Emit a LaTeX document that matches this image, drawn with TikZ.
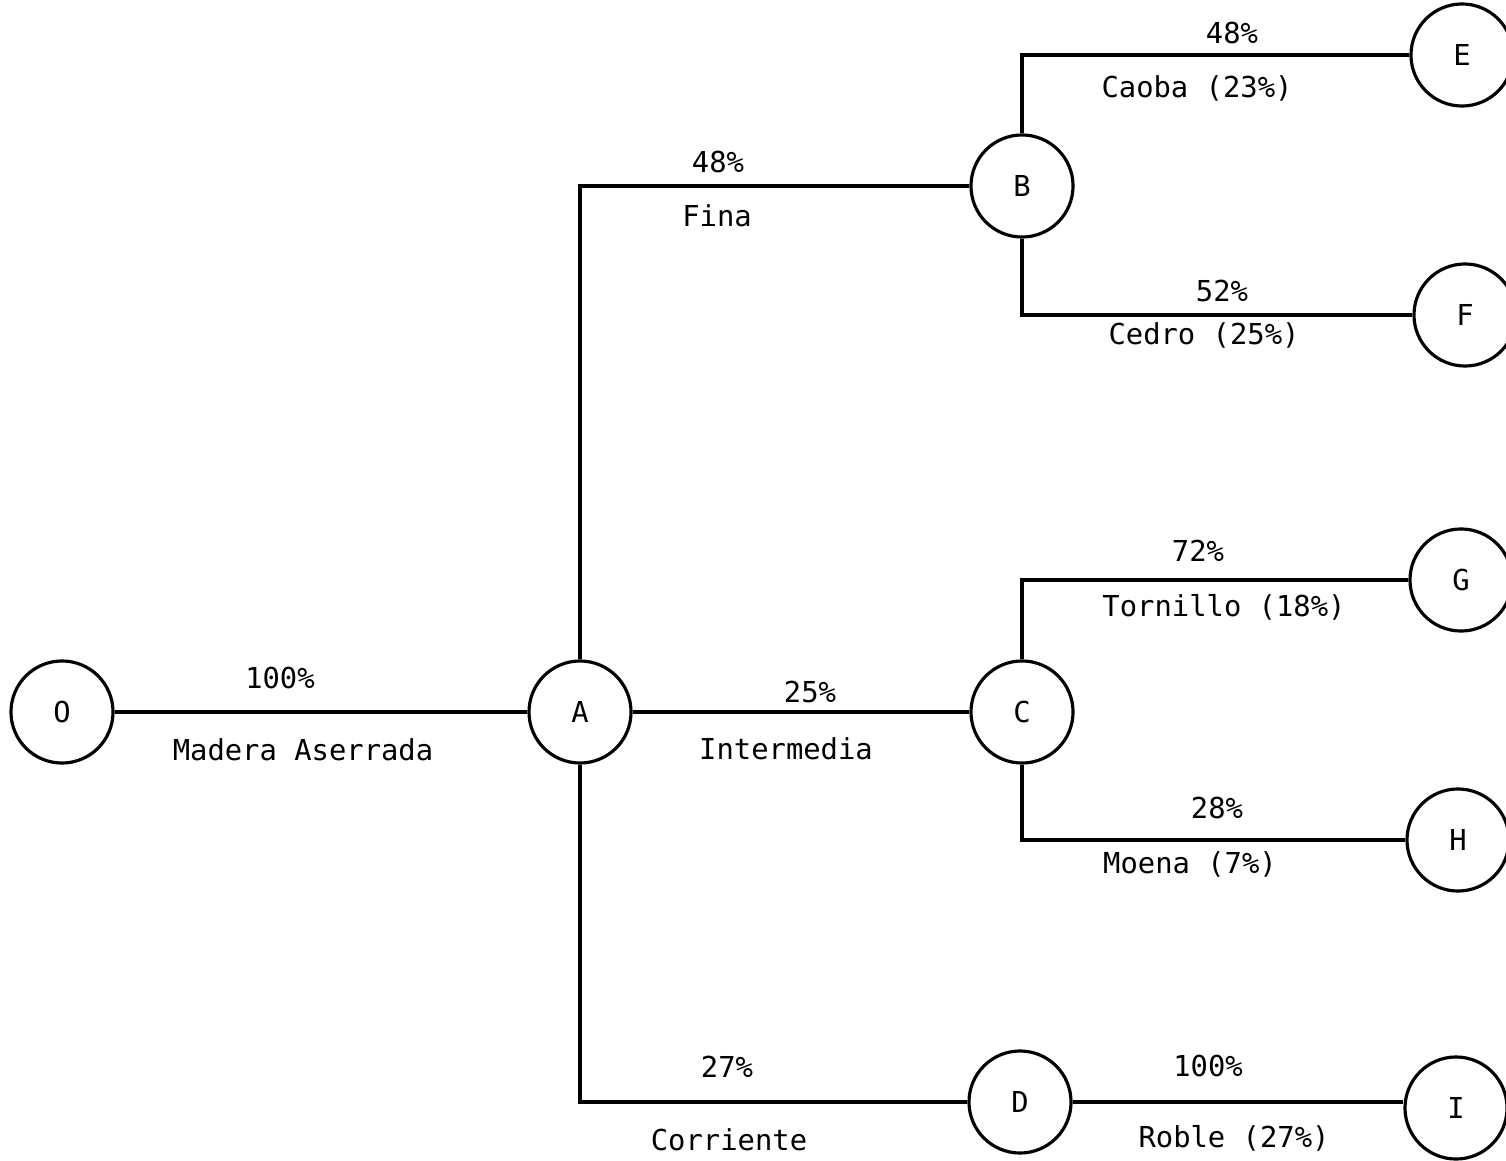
\documentclass[tikz,border=0pt]{standalone}
\usepackage{fontspec}
\newfontfamily\plotter{DejaVu Sans Mono}
\usetikzlibrary{positioning}

\tikzset{
  nodo/.style={draw, circle, line width=0.9pt, minimum size=1.02cm, inner sep=0pt,
               font=\plotter\fontsize{8.2pt}{10pt}\selectfont},
  rama/.style={line width=0.9pt},
  etiq/.style={font=\plotter\fontsize{8.2pt}{10pt}\selectfont, inner sep=0pt}
}

\begin{document}
\begin{tikzpicture}[x=0.01cm, y=-0.01cm]
\useasboundingbox (0,0) rectangle (1506,1161);

% nodos
\node[nodo] (O) at (62,712) {O};
\node[nodo] (A) at (580,712) {A};
\node[nodo] (B) at (1022,186) {B};
\node[nodo] (C) at (1022,712) {C};
\node[nodo] (D) at (1020,1102) {D};
\node[nodo] (E) at (1462,55) {E};
\node[nodo] (F) at (1465,315) {F};
\node[nodo] (G) at (1461,580) {G};
\node[nodo] (H) at (1458,840) {H};
\node[nodo] (I) at (1456,1108) {I};

% ramas
\draw[rama] (O) -- (A);
\draw[rama] (A.north) |- (B.west);
\draw[rama] (A) -- (C);
\draw[rama] (A.south) |- (D.west);
\draw[rama] (B.north) |- (E.west);
\draw[rama] (B.south) |- (F.west);
\draw[rama] (C.north) |- (G.west);
\draw[rama] (C.south) |- (H.west);
\draw[rama] (D.east) -- (D.east -| I.west);

% etiquetas
\node[etiq] (p1) at (280,678) {100\%};
\node[etiq] (t1) at (303,750) {Madera Aserrada};
\node[etiq] (p2) at (718,162) {48\%};
\node[etiq] (t2) at (717,216) {Fina};
\node[etiq] (p3) at (810,692) {25\%};
\node[etiq] (t3) at (786,749) {Intermedia};
\node[etiq] (p4) at (727,1067) {27\%};
\node[etiq] (t4) at (729,1140) {Corriente};
\node[etiq] (p5) at (1232,33) {48\%};
\node[etiq] (t5) at (1197,88) {Caoba (23\%)};
\node[etiq] (p6) at (1222,291) {52\%};
\node[etiq] (t6) at (1204,335) {Cedro (25\%)};
\node[etiq] (p7) at (1198,551) {72\%};
\node[etiq] (t7) at (1224,607) {Tornillo (18\%)};
\node[etiq] (p8) at (1217,808) {28\%};
\node[etiq] (t8) at (1190,864) {Moena (7\%)};
\node[etiq] (p9) at (1208,1066) {100\%};
\node[etiq] (t9) at (1234,1138) {Roble (27\%)};
\end{tikzpicture}
\end{document}
